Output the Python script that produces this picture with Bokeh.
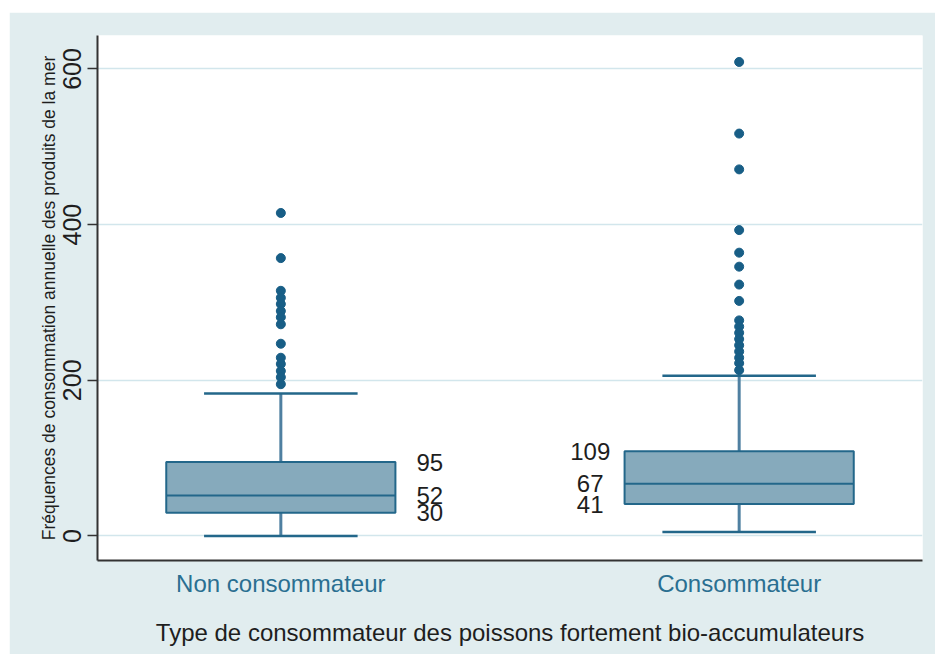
from bokeh.plotting import figure
from bokeh.models import Range1d, FixedTicker, Spacer
from bokeh.layouts import column, row
from bokeh.embed import file_html
from bokeh.resources import INLINE
from bokeh.core.properties import value

# ---- data ----
categories = ["Non consommateur", "Consommateur"]
q1 = [30, 41]
median = [52, 67]
q3 = [95, 109]
lower_whisker = [0, 5]
upper_whisker = [183, 206]
outliers_non = [415, 357, 315, 306, 298, 289, 281, 272, 247, 229, 221, 212, 204, 195]
outliers_cons = [609, 517, 471, 393, 364, 346, 323, 302, 277, 269, 261, 253,
                 245, 237, 229, 222, 213]
y_ticks = [0, 200, 400, 600]

x_title = "Type de consommateur des poissons fortement bio-accumulateurs"
y_title = "Fréquences de consommation annuelle des produits de la mer"

# ---- styling ----
BG = "#e1edef"
GRID = "#d2e6ec"
FILL = "#86aabc"
EDGE = "#23678a"
STEM = "#4f80a1"
DOT = "#185e86"
FONT = "Liberation Sans"

xs = [i + 1 for i in range(len(categories))]
box_w = 0.5
cap_w = 0.335

p = figure(width=926, height=642, x_range=Range1d(0.6, 2.4), y_range=Range1d(-31.5, 643),
           output_backend="svg", toolbar_location=None,
           min_border_left=88, min_border_right=13, min_border_top=23, min_border_bottom=94)
p.background_fill_color = "white"
p.border_fill_color = BG
p.outline_line_color = None

# grid
p.xgrid.grid_line_color = None
p.ygrid.ticker = FixedTicker(ticks=y_ticks)
p.ygrid.grid_line_color = GRID
p.ygrid.grid_line_width = 1.5

# whisker stems
p.segment(x0=xs, y0=q3, x1=xs, y1=upper_whisker, line_color=STEM, line_width=3)
p.segment(x0=xs, y0=lower_whisker, x1=xs, y1=q1, line_color=STEM, line_width=3)
# caps
p.segment(x0=[x - cap_w / 2 for x in xs], y0=upper_whisker,
          x1=[x + cap_w / 2 for x in xs], y1=upper_whisker, line_color=EDGE, line_width=2.5)
p.segment(x0=[x - cap_w / 2 for x in xs], y0=lower_whisker,
          x1=[x + cap_w / 2 for x in xs], y1=lower_whisker, line_color=EDGE, line_width=2.5)
# boxes
p.vbar(x=xs, width=box_w, bottom=q1, top=q3, fill_color=FILL, line_color=EDGE, line_width=2)
p.segment(x0=[x - box_w / 2 for x in xs], y0=median,
          x1=[x + box_w / 2 for x in xs], y1=median, line_color=EDGE, line_width=2)
# outliers
p.scatter(x=[xs[0]] * len(outliers_non), y=outliers_non, size=9,
          fill_color=DOT, line_color=DOT)
p.scatter(x=[xs[1]] * len(outliers_cons), y=outliers_cons, size=9,
          fill_color=DOT, line_color=DOT)

# quartile labels
side = [1, -1]
lab_x, lab_y, lab_t = [], [], []
for i, x in enumerate(xs):
    for v in (q3[i], median[i], q1[i]):
        lab_x.append(x + side[i] * 0.325)
        lab_y.append(v)
        lab_t.append(str(v))
p.text(x=lab_x, y=lab_y, text=lab_t, text_align="center", text_baseline="middle",
       text_font=value(FONT), text_font_size="24px", text_color="#1e1e1e")

# axes
yax = p.yaxis[0]
yax.ticker = FixedTicker(ticks=y_ticks)
yax.minor_tick_line_color = None
yax.major_tick_out = 10
yax.major_tick_in = 0
yax.major_tick_line_color = "#333333"
yax.major_tick_line_width = 1.5
yax.axis_line_color = "#333333"
yax.axis_line_width = 2
yax.major_label_orientation = "vertical"
yax.major_label_text_font = FONT
yax.major_label_text_font_size = "25px"
yax.major_label_text_color = "#1e1e1e"
yax.major_label_standoff = 6
yax.axis_label = y_title
yax.axis_label_text_font = FONT
yax.axis_label_text_font_style = "normal"
yax.axis_label_text_font_size = "17.5px"
yax.axis_label_text_color = "#1e1e1e"
yax.axis_label_standoff = 2

xax = p.xaxis[0]
xax.ticker = FixedTicker(ticks=xs)
xax.major_label_overrides = {x: c for x, c in zip(xs, categories)}
xax.major_tick_line_color = None
xax.minor_tick_line_color = None
xax.axis_line_color = "#333333"
xax.axis_line_width = 2
xax.major_label_text_font = FONT
xax.major_label_text_font_size = "24px"
xax.major_label_text_color = "#2a6f91"
xax.major_label_standoff = 3
xax.axis_label = x_title
xax.axis_label_text_font = FONT
xax.axis_label_text_font_style = "normal"
xax.axis_label_text_font_size = "24px"
xax.axis_label_text_color = "#1e1e1e"
xax.axis_label_standoff = 19

layout = column(Spacer(height=12, width=1), row(Spacer(width=9, height=1), p))
open("out.html", "w").write(file_html(layout, INLINE))
